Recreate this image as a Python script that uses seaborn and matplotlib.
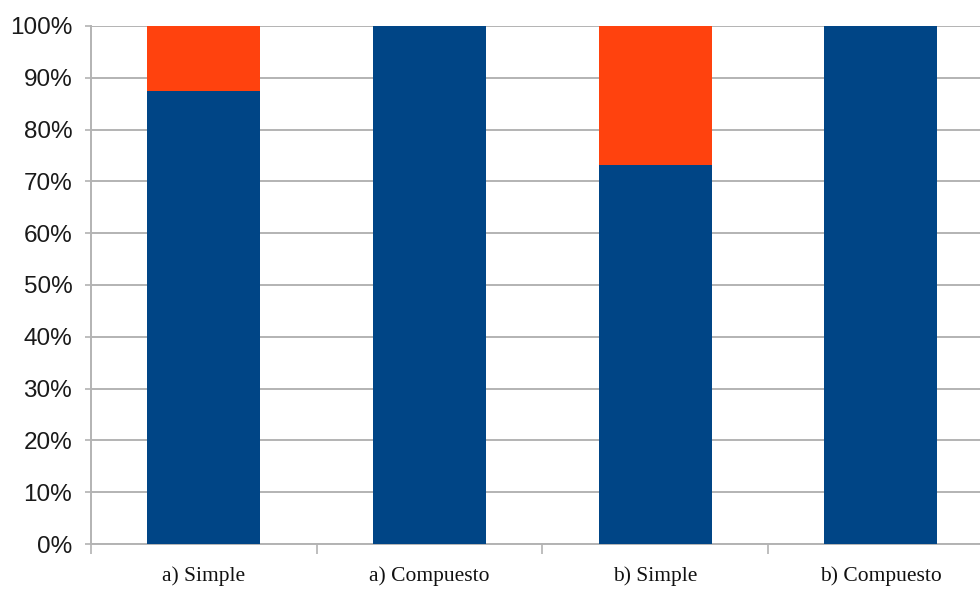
"""Gráfico de barras apiladas al 100 %: tipo de interés simple frente a compuesto."""

import matplotlib
matplotlib.use("Agg")
import matplotlib.pyplot as plt
import numpy as np
import pandas as pd
import seaborn as sns
from matplotlib.ticker import FixedLocator


categories = ["a) Simple", "a) Compuesto", "b) Simple", "b) Compuesto"]
blue_pct = [87.5, 100.0, 73.2, 100.0]
orange_pct = [12.5, 0.0, 26.8, 0.0]
y_ticks = list(range(0, 101, 10))

BLUE = "#004586"
ORANGE = "#ff420e"
GRID = "#b3b3b3"

sns.set_style("white")

frame = pd.DataFrame(
    {
        "categoria": categories,
        "azul": blue_pct,
        "total": np.add(blue_pct, orange_pct),
    }
)

fig = plt.figure(figsize=(9.8, 5.89), dpi=100)
ax = fig.add_axes([0.0929, 0.0764, 0.9071, 0.8795])

# el total (naranja) debajo y el azul encima, así queda apilado
sns.barplot(data=frame, x="categoria", y="total", color=ORANGE, width=0.5,
            saturation=1, linewidth=0, ax=ax, zorder=3)
sns.barplot(data=frame, x="categoria", y="azul", color=BLUE, width=0.5,
            saturation=1, linewidth=0, ax=ax, zorder=4)

ax.set_xlim(-0.5, 3.44)
ax.set_ylim(0, 100)
ax.set_yticks(y_ticks)
ax.set_yticklabels([f"{v}%" for v in y_ticks], fontfamily="Liberation Sans", fontsize=17.5,
                   color="#1a1a1a")
ax.yaxis.grid(True, color=GRID, linewidth=1.4, zorder=0)
ax.set_axisbelow(True)

ax.set_xticks(range(len(categories)))
ax.set_xticklabels(categories, fontfamily="Liberation Serif", fontsize=15.5, color="#111111")
ax.xaxis.set_minor_locator(FixedLocator([-0.5, 0.5, 1.5, 2.5]))
ax.tick_params(axis="x", which="major", length=0, pad=16)
ax.tick_params(axis="x", which="minor", length=7, width=1.2, color=GRID, bottom=True)
ax.tick_params(axis="y", length=4.5, width=1.2, color=GRID, pad=9, left=True)

ax.set_xlabel("")
ax.set_ylabel("")
for side in ("top", "right"):
    ax.spines[side].set_visible(False)
for side in ("left", "bottom"):
    ax.spines[side].set_color(GRID)
    ax.spines[side].set_linewidth(1.4)

fig.savefig("out.png", dpi=100)
